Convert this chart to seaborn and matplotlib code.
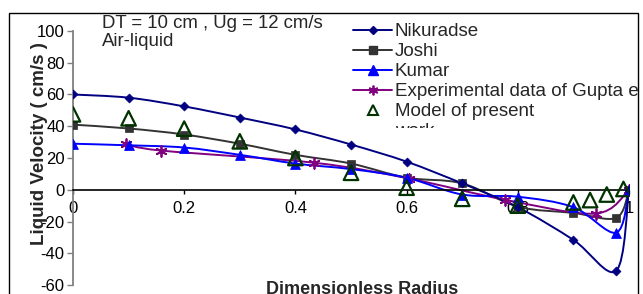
import numpy as np
import matplotlib
matplotlib.use("Agg")
import matplotlib.pyplot as plt
from matplotlib.path import Path
from matplotlib.patches import PathPatch, Rectangle
from matplotlib.lines import Line2D
from matplotlib.transforms import Bbox
import seaborn as sns
import pandas as pd

sns.set_theme(style="white")
plt.rcParams['font.family'] = ['Liberation Sans', 'DejaVu Sans']

# ---- data ----
nik_x = [0, 0.1, 0.2, 0.3, 0.4, 0.5, 0.6, 0.7, 0.8, 0.9, 0.977, 1.0]
nik_y = [60, 58, 52.5, 45.5, 38, 28.5, 17.7, 4, -11, -31.6, -51, 0]
jos_x = [0, 0.1, 0.2, 0.3, 0.4, 0.5, 0.6, 0.7, 0.8, 0.9, 0.977, 1.0]
jos_y = [41, 38.6, 34.8, 29, 22, 16.5, 7.6, 4, -10.6, -14.6, -17.7, 0]
kum_x = [0, 0.1, 0.2, 0.3, 0.4, 0.5, 0.6, 0.7, 0.8, 0.9, 0.977, 1.0]
kum_y = [29, 28, 26.6, 22, 16.5, 13, 7.6, -3, -4.4, -11, -27, 0]
gup_x = [0.095, 0.158, 0.434, 0.605, 0.777, 0.94, 1.0]
gup_y = [29, 24.7, 17, 7, -6.3, -15, 0]
mod_x = [0, 0.1, 0.2, 0.3, 0.4, 0.5, 0.6, 0.7, 0.8, 0.9, 0.93, 0.96, 0.99]
mod_y = [47.5, 45, 38.5, 30.5, 20, 10.7, 1.3, -5.7, -10, -8, -6.5, -3, 0.5]

labels = ["Nikuradse", "Joshi", "Kumar", "Experimental data of Gupta et al.",
          "Model of present", "work"]
xticks = [0, 0.2, 0.4, 0.6, 0.8, 1]
xticklabels = ["0", "0.2", "0.4", "0.6", "0.8", "1"]
yticks = [-60, -40, -20, 0, 20, 40, 60, 80, 100]

W, H = 643, 294
fig = plt.figure(figsize=(W / 100, H / 100), dpi=100)
ax = fig.add_axes([73 / W, 1 - 285 / H, (629 - 73) / W, (285 - 31) / H])
ax.set_xlim(0, 1)
ax.set_ylim(-60, 100)
ax.patch.set_alpha(0)


def smooth(x, y, color, lw=1.4, z=2):
    pts = np.column_stack([x, y]).astype(float)
    n = len(pts)
    verts = [pts[0]]
    codes = [Path.MOVETO]
    for i in range(n - 1):
        p0 = pts[i - 1] if i > 0 else pts[i]
        p1 = pts[i]
        p2 = pts[i + 1]
        p3 = pts[i + 2] if i + 2 < n else pts[i + 1]
        c1 = p1 + (p2 - p0) / 6.0
        c2 = p2 - (p3 - p1) / 6.0
        verts += [c1, c2, p2]
        codes += [Path.CURVE4] * 3
    patch = PathPatch(Path(verts, codes), fill=False, edgecolor=color,
                      lw=lw, zorder=z, transform=ax.transData)
    ax.add_patch(patch)


c_nik = "#000080"
c_jos = "#333333"
c_kum = "#0000FF"
c_gup = "#800080"
c_mod = "#003300"

smooth(jos_x, jos_y, c_jos)
smooth(gup_x, gup_y, c_gup)
smooth(kum_x, kum_y, c_kum)
smooth(nik_x, nik_y, c_nik)

df = lambda x, y: pd.DataFrame({"x": x, "y": y})
sns.scatterplot(data=df(jos_x, jos_y), x="x", y="y", ax=ax, marker="s",
                s=40, color=c_jos, edgecolor=c_jos, zorder=3, legend=False)
sns.scatterplot(data=df(gup_x, gup_y), x="x", y="y", ax=ax, marker=(6, 2, 0),
                s=60, color=c_gup, edgecolor=c_gup, linewidth=1.3, zorder=3, legend=False)
sns.scatterplot(data=df(kum_x, kum_y), x="x", y="y", ax=ax, marker="^",
                s=50, color=c_kum, edgecolor=c_kum, zorder=3, legend=False)
sns.scatterplot(data=df(nik_x, nik_y), x="x", y="y", ax=ax, marker="D",
                s=22, color=c_nik, edgecolor=c_nik, zorder=3, legend=False)
sns.scatterplot(data=df(mod_x, mod_y), x="x", y="y", ax=ax, marker="^",
                s=110, facecolor="none", edgecolor=c_mod, linewidth=1.6,
                zorder=4, legend=False)

ax.set_xlabel("")
ax.set_ylabel("")
for s in ["top", "right"]:
    ax.spines[s].set_visible(False)
ax.spines["left"].set_color("#808080")
ax.spines["left"].set_linewidth(1.3)
ax.spines["bottom"].set_position(("data", 0))
ax.spines["bottom"].set_color("black")
ax.spines["bottom"].set_linewidth(1.2)
ax.set_axisbelow(True)
ax.set_xticks(xticks)
ax.set_xticklabels(xticklabels)
ax.set_yticks(yticks)
ax.set_yticklabels([str(v) for v in yticks])
ax.tick_params(axis="y", direction="out", length=4, width=1, color="#808080",
               pad=2, labelsize=12, labelcolor="black", left=True)
ax.tick_params(axis="x", direction="out", length=3, width=1, color="black",
               pad=5, labelsize=12, labelcolor="black", bottom=True)
ax.grid(False)

# axis titles
fig.text(40 / W, 1 - 144 / H, "Liquid Velocity ( cm/s )", rotation=90,
         ha="center", va="center", fontsize=13.5, fontweight="bold")
fig.text(362 / W, 1 - 289 / H, "Dimensionless Radius", ha="center",
         va="center", fontsize=13, fontweight="bold")

# annotation
fig.text(102 / W, 1 - 24 / H, "DT = 10 cm , Ug = 12 cm/s", ha="left",
         va="center", fontsize=13.4)
fig.text(102 / W, 1 - 42 / H, "Air-liquid", ha="left", va="center",
         fontsize=13.4)

# legend (drawn manually, clipped like the original)
clip = Bbox.from_extents(0, H - 128, 638, H)
styles = [
    dict(color=c_nik, lw=1.4, marker="D", ms=4.5),
    dict(color=c_jos, lw=1.4, marker="s", ms=6),
    dict(color=c_kum, lw=1.4, marker="^", ms=6.5),
    dict(color=c_gup, lw=1.4, marker=(6, 2, 0), ms=7, mew=1.3),
    dict(color=c_mod, lw=0, marker="^", ms=7, mfc="none", mew=1.5),
]
for i, st in enumerate(styles):
    yy = 1 - (30 + 20 * i) / H
    fig.add_artist(Line2D([353 / W, 392 / W], [yy, yy],
                          transform=fig.transFigure, color=st["color"], lw=st["lw"]))
    fig.add_artist(Line2D([372.5 / W], [yy], transform=fig.transFigure, lw=0,
                          color=st["color"], marker=st["marker"], ms=st["ms"],
                          mfc=st.get("mfc", st["color"]), mew=st.get("mew", 1)))
for i, lab in enumerate(labels):
    yy = 1 - (31.5 + 20 * i) / H
    t = fig.text(395 / W, yy, lab, ha="left", va="center", fontsize=13.5)
    t.set_clip_box(clip)
    t.set_clip_on(True)

# outer border
fig.patches.append(Rectangle((9 / W, -0.1), (638 - 9) / W, 1.1 - 13 / H,
                             transform=fig.transFigure, fill=False,
                             edgecolor="black", lw=1.0))

fig.savefig("out.png", dpi=100)
